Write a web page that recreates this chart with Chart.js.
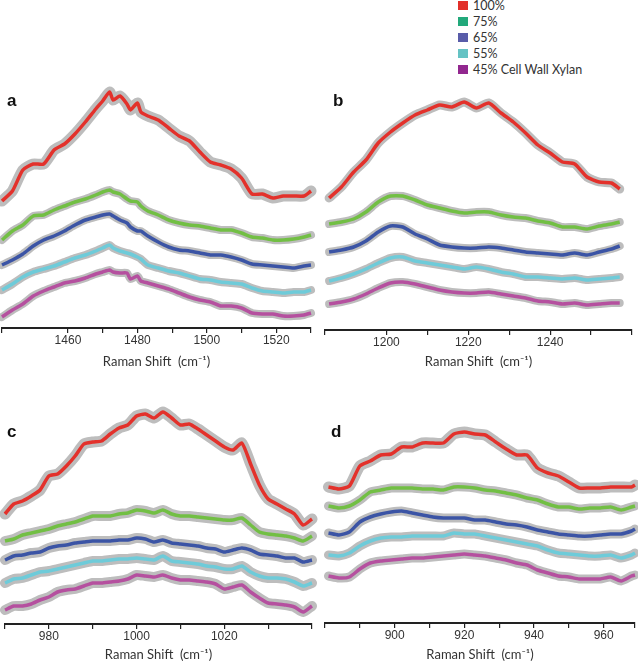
<!DOCTYPE html>
<html><head><meta charset="utf-8">
<script src="https://cdn.jsdelivr.net/npm/chart.js@4.4.1/dist/chart.umd.min.js"></script>
<style>
html,body{margin:0;padding:0;background:#fff;width:638px;height:662px;overflow:hidden;position:relative;}
.pane{position:absolute;}
.letter{position:absolute;font:bold 17px "Liberation Sans",Arial,sans-serif;color:#111;line-height:17px;}
#legend{position:absolute;left:458px;top:-3px;font:12.5px "Lato","Liberation Sans",sans-serif;color:#333;}
#legend .row{height:16.2px;display:flex;align-items:center;white-space:nowrap;}
#legend .sw{width:10px;height:9px;margin-right:5px;}
</style>
</head><body>
<div id="legend"></div>
<canvas id="ca" class="pane"></canvas>
<canvas id="cb" class="pane"></canvas>
<canvas id="cc" class="pane"></canvas>
<canvas id="cd" class="pane"></canvas>
<div class="letter" style="left:7px;top:92px">a</div>
<div class="letter" style="left:333px;top:92px">b</div>
<div class="letter" style="left:7px;top:423px">c</div>
<div class="letter" style="left:331px;top:423px">d</div>
<script>
// ---- series ----
const seriesNames = ['100%','75%','65%','55%','45% Cell Wall Xylan'];
const lineColors = ['#e3312b','#72bf44','#3b54a5','#6ecbd9','#b5509f'];
const legendColors = ['#e2302a','#22a97b','#2e3192','#3cb3b5','#92278f'];
const bandColor = '#bdbdbd';
const axisTitle = 'Raman Shift  (cm\u207B\u00B9)';

// ---- panel a ----
const xA = [1441,1444,1447,1450,1453,1456,1459,1462,1465,1468,1470,1472,1473,1475,1477,1478,1480,1481,1483,1486,1489,1492,1495,1498,1501,1504,1507,1510,1513,1516,1519,1522,1525,1528,1530];
const a100 = [127,137,158,164,164,178,184,194,206,219,227,236,228,232,224,218,225,216,212,208,200,192,187,176,166,163,159,150,134,134,130,132,132,132,137];
const a75 = [88,97,103,112,113,118,122,126,129,133,136,138,136,134,129,127,126,122,117,113,108,105,103,102,100,98,98,95,91,90,88,88,89,91,93];
const a65 = [63,68,74,82,88,92,97,103,108,111,113,114,112,108,105,101,97,97,92,86,81,78,77,75,73,73,71,68,64,63,62,61,60,62,63];
const a55 = [38,44,51,56,59,62,66,70,73,77,80,83,80,77,75,74,71,69,63,60,57,55,52,49,48,46,45,44,40,37,36,35,36,36,38];
const a45 = [11,18,24,32,37,41,45,47,50,54,56,58,56,55,55,49,52,47,45,42,39,35,31,28,26,22,22,20,15,14,14,12,12,13,15];
const ticksA = [1460,1480,1500,1520];

// ---- panel b ----
const xB = [1186,1189,1192,1195,1198,1201,1204,1207,1210,1213,1216,1219,1222,1225,1228,1231,1234,1237,1240,1243,1246,1249,1252,1255,1257];
const b100 = [132,143,158,170,187,198,207,215,220,225,223,228,222,227,217,208,197,185,177,168,166,153,148,147,141];
const b75 = [106,108,111,118,128,134,134,130,125,122,119,117,118,118,115,113,112,109,107,103,103,101,104,106,108];
const b65 = [78,80,83,89,98,104,103,96,91,85,83,82,82,83,82,80,78,77,76,75,77,75,78,81,84];
const b55 = [49,52,56,61,67,72,73,69,67,65,63,61,63,61,58,56,53,53,52,51,52,50,51,52,53];
const b45 = [26,28,31,36,42,47,48,46,43,40,38,37,37,38,36,34,32,29,28,26,27,25,26,27,27];
const ticksB = [1200,1220,1240];

// ---- panel c ----
const xC = [970,972,974,976,978,980,982,984,986,988,990,992,994,996,998,1000,1002,1004,1006,1008,1010,1012,1014,1016,1018,1020,1022,1024,1026,1028,1030,1032,1034,1036,1038,1040];
const c100 = [110,120,123,128,134,148,150,158,168,180,182,183,190,196,199,208,210,206,212,206,199,200,195,189,183,177,174,181,160,139,125,120,115,110,99,105];
const c75 = [83,85,89,91,93,95,98,100,102,105,108,108,108,110,111,114,113,111,114,110,108,108,107,106,105,104,104,106,99,92,90,89,88,86,83,88];
const c65 = [64,68,69,71,72,76,78,79,81,82,83,83,83,84,84,86,85,82,84,81,80,79,78,76,75,72,74,76,74,70,69,68,66,66,62,64];
const c55 = [41,45,46,49,52,53,55,57,59,61,63,63,64,65,65,66,65,64,68,63,62,61,60,58,57,55,55,58,52,48,46,46,45,42,38,41];
const c45 = [14,18,18,20,24,27,32,34,35,38,41,41,42,43,45,49,48,47,49,46,44,44,43,42,40,35,37,39,32,26,21,20,19,17,12,18];
const ticksC = [980,1000,1020];

// ---- panel d ----
const xD = [881,884,887,890,893,896,899,902,905,908,911,914,917,920,923,926,929,932,935,938,941,944,947,950,953,956,959,962,965,968,969];
const d100 = [136,134,137,157,162,168,169,176,176,180,180,180,189,191,189,188,181,174,168,168,155,150,147,141,135,135,135,136,136,136,138];
const d75 = [117,115,117,123,131,133,135,135,135,134,134,133,136,136,135,133,132,130,128,125,123,119,116,116,114,115,115,116,113,116,117];
const d65 = [90,88,91,101,106,109,111,112,110,108,106,105,105,105,103,103,101,99,98,96,93,91,89,88,87,87,88,89,89,92,94];
const d55 = [68,67,70,77,82,85,86,86,87,87,87,87,90,89,89,87,85,83,81,79,77,73,70,69,68,67,67,68,65,68,70];
const d45 = [47,45,46,54,60,62,63,64,65,65,66,67,68,69,68,67,65,63,60,58,53,50,47,46,44,44,44,46,42,47,48];
const ticksD = [900,920,940,960];

// ---- legend ----
const lg = document.getElementById('legend');
seriesNames.forEach((n,i)=>{
  const r = document.createElement('div'); r.className='row';
  const s = document.createElement('span'); s.className='sw'; s.style.background=legendColors[i];
  if(i===2||i===3){ s.style.backgroundImage='radial-gradient(rgba(255,255,255,0.45) 0.6px, transparent 0.8px)'; s.style.backgroundSize='2px 2px'; }
  const t = document.createElement('span'); t.textContent=n;
  r.appendChild(s); r.appendChild(t); lg.appendChild(r);
});

function makePanel(id, pos, xs, ys, xmin, xmax, ymax, tickVals, bands, titlePad){
  const cv = document.getElementById(id);
  cv.width = pos.w; cv.height = pos.h;
  cv.style.left = pos.l+'px'; cv.style.top = pos.t+'px';
  cv.style.width = pos.w+'px'; cv.style.height = pos.h+'px';
  const datasets = [];
  ys.forEach((arr,i)=>{
    const pts = arr.map((v,k)=>({x:xs[k], y:v}));
    datasets.push({label:seriesNames[i]+' band', data:pts, borderColor:bandColor, borderWidth:bands[i], pointRadius:0, tension:0.2, order:2, clip:false, borderJoinStyle:'round', borderCapStyle:'round'});
    datasets.push({label:seriesNames[i], data:pts, borderColor:lineColors[i], borderWidth:3.5, pointRadius:0, tension:0.2, order:1, clip:false, borderJoinStyle:'round'});
  });
  new Chart(cv, {
    type:'line',
    data:{datasets},
    options:{
      responsive:false, animation:false, devicePixelRatio:1,
      layout:{padding:{left:pos.pl, right:pos.pr, top:0, bottom:0}},
      plugins:{legend:{display:false}, tooltip:{enabled:false}},
      scales:{
        x:{type:'linear', min:xmin, max:xmax,
          border:{display:true, color:'#222', width:2},
          grid:{display:true, drawOnChartArea:false, drawTicks:true, tickLength:5, color:'#222', lineWidth:1.2},
          ticks:{stepSize:10, autoSkip:false, maxRotation:0, padding:0, color:'#333',
            font:{family:'"Liberation Sans", Arial, sans-serif', size:12},
            callback:(v)=> tickVals.includes(v) ? String(v) : ''},
          title:{display:true, text:axisTitle, color:'#333', padding:{top:titlePad, bottom:0},
            font:{family:'"Lato","Liberation Sans", sans-serif', size:13}}
        },
        y:{display:false, min:0, max:ymax}
      }
    }
  });
}

makePanel('ca', {l:0,t:78,w:318,h:292,pl:2,pr:7}, xA, [a100,a75,a65,a55,a45], 1441, 1530, 250, ticksA, [11,8,8,8,8], 7);
makePanel('cb', {l:318,t:80,w:320,h:290,pl:7,pr:6}, xB, [b100,b75,b65,b55,b45], 1185, 1260, 250, ticksB, [9,8,8,8,8], 5);
makePanel('cc', {l:0,t:394,w:318,h:269,pl:5,pr:6}, xC, [c100,c75,c65,c55,c45], 970, 1040, 230, ticksC, [11,10,10,10,10], 4);
makePanel('cd', {l:318,t:393,w:320,h:270,pl:7,pr:3}, xD, [d100,d75,d65,d55,d45], 880, 969, 230, ticksD, [11,9,9,9,9], 5);
</script>
</body></html>
